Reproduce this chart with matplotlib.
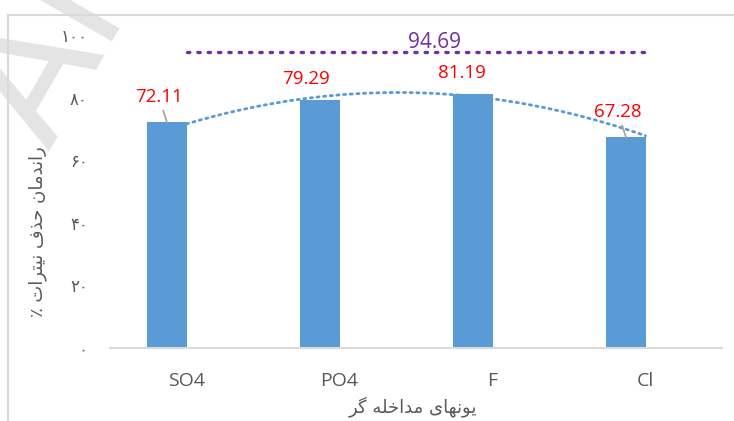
import numpy as np
import matplotlib
matplotlib.use("Agg")
import matplotlib.pyplot as plt
from matplotlib.lines import Line2D

plt.rcParams['font.family'] = ['Open Sans', 'DejaVu Sans']

# ---- data ----
categories = ["SO4", "PO4", "F", "Cl"]
values = [72.11, 79.29, 81.19, 67.28]
reference_value = 94.69
value_labels = ["72.11", "79.29", "81.19", "67.28"]
yticks = [0, 20, 40, 60, 80, 100]
ytick_labels = ["۰", "۲۰", "۴۰", "۶۰", "۸۰", "۱۰۰"]
# Persian titles (pre-shaped presentation forms, visual order)
ylabel_text = "٪ ﺕﺍﺮﺘﻴﻧ ﻑﺬﺣ ﻥﺎﻣﺪﻧﺍﺭ"
xlabel_text = "ﺮﮔ ﻪﻠﺧﺍﺪﻣ ﻯﺎﻬﻧﻮﻳ"

W, H = 734, 421
fig = plt.figure(figsize=(W / 100, H / 100), dpi=100)

# faint watermark (drawn first, behind everything)
wm = fig.text(-0.085, 0.60, "Arc", rotation=60, fontsize=120, color='#E4E4E4',
              ha='left', va='bottom', family=['DejaVu Sans'], zorder=-5)

# axes placement in pixels
x0, x1 = 110, 722
y0, y1 = 348, 35
ax = fig.add_axes([x0 / W, (H - y0) / H, (x1 - x0) / W, (y0 - y1) / H])
ax.set_zorder(1)

bar_color = "#5B9BD5"
x = np.arange(len(categories))
bw = 0.255
bar_x = x - bw / 2
ax.bar(bar_x, values, width=bw, color=bar_color, zorder=2)

# polynomial (2nd order) trendline through bar values
coef = np.polyfit(x, values, 2)
xs = np.linspace(0, len(categories) - 1, 200)
ax.plot(xs, np.polyval(coef, xs), color=bar_color, lw=2.0,
        linestyle=(0, (0.8, 1.6)), dash_capstyle='round', zorder=3)

# reference dotted purple line
purple = "#7030A0"
ax.plot([0, len(categories) - 1], [reference_value, reference_value], color=purple,
        lw=2.4, linestyle=(0, (0.7, 2.4)), dash_capstyle='round', zorder=3)
ax.text(1.62, reference_value + 3.0, f"{reference_value:.2f}", color=purple,
        fontsize=15, ha='center', va='center')

# data labels
offsets = [(-8, 25), (-14, 21), (-11, 21), (-8, 25)]
leaders = [True, False, False, True]
for bx, v, lab, (dx, dy), ld in zip(bar_x, values, value_labels, offsets, leaders):
    kw = {}
    if ld:
        kw['arrowprops'] = dict(arrowstyle='-', color='#A6A6A6', lw=1.3,
                                shrinkA=1, shrinkB=0)
    ax.annotate(lab, xy=(bx, v), xytext=(dx, dy), textcoords='offset pixels',
                color='#FF0000', fontsize=13.5, ha='center', va='center', **kw)

ax.set_xlim(-0.5, len(categories) - 0.5)
ax.set_ylim(0, 100)
ax.set_xticks(x)
ax.set_xticklabels(categories, fontsize=14, color='#595959')
ax.set_yticks(yticks)
ax.set_yticklabels(ytick_labels, fontsize=12, color='#595959',
                   family=['DejaVu Sans'])
ax.tick_params(axis='both', length=0)
ax.tick_params(axis='x', pad=17)
ax.tick_params(axis='y', pad=16)
for s in ['top', 'right', 'left']:
    ax.spines[s].set_visible(False)
ax.spines['bottom'].set_color('#D9D9D9')
ax.spines['bottom'].set_linewidth(1.5)
ax.set_facecolor('none')

# axis titles
fig.text(38 / W, 1 - 232 / H, ylabel_text, rotation=90, ha='center', va='center',
         fontsize=13, color='#595959', family=['DejaVu Sans'])
fig.text(413 / W, 1 - 407 / H, xlabel_text, ha='center', va='center',
         fontsize=13, color='#595959', family=['DejaVu Sans'])

# chart border (left and top)
fig.add_artist(Line2D([8 / W, 8 / W], [0, 1 - 15 / H], color='#D9D9D9', lw=1.5,
                      transform=fig.transFigure))
fig.add_artist(Line2D([8 / W, 1], [1 - 15 / H, 1 - 15 / H], color='#D9D9D9', lw=1.5,
                      transform=fig.transFigure))

fig.savefig("out.png", dpi=100)
